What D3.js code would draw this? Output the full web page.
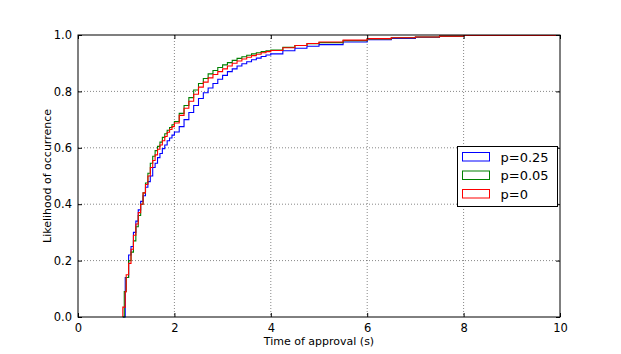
<!DOCTYPE html>
<html>
<head>
<meta charset="utf-8">
<script src="https://cdn.jsdelivr.net/npm/d3@7"></script>
<style>
  body { margin: 0; background: #fff; }
  text { font-family: "DejaVu Sans", sans-serif; fill: #000; }
</style>
</head>
<body>
<div id="chart"></div>
<script>
// step edges (s), shared by the three empirical CDFs
let times = [0.93, 0.96, 0.98, 1.0, 1.05, 1.1, 1.15, 1.2, 1.25, 1.3, 1.35, 1.4, 1.45, 1.5, 1.55, 1.6, 1.65, 1.7, 1.75, 1.8, 1.85, 1.9, 1.95, 2.0,
  2.1, 2.2, 2.3, 2.4, 2.5, 2.6, 2.7, 2.8, 2.9, 3.0, 3.1, 3.2, 3.3, 3.4, 3.5, 3.6, 3.7, 3.8, 3.9, 4.0,
  4.25, 4.5, 4.75, 5.0, 5.5, 6.0, 6.5, 7.0, 7.5, 8.0, 10];

let cdfP025 = [0, 0, 0.14, 0.14, 0.22, 0.25, 0.30, 0.34, 0.38, 0.41, 0.43, 0.46, 0.48, 0.50, 0.53, 0.545, 0.565, 0.58, 0.597, 0.61, 0.625, 0.635, 0.645, 0.656,
  0.675, 0.70, 0.725, 0.75, 0.775, 0.795, 0.812, 0.828, 0.843, 0.857, 0.87, 0.88, 0.89, 0.898, 0.905, 0.912, 0.918, 0.924, 0.929, 0.933,
  0.944, 0.953, 0.96, 0.966, 0.975, 0.983, 0.988, 0.992, 0.995, 0.998, 1];

let cdfP005 = [0, 0.09, 0.09, 0.14, 0.20, 0.23, 0.27, 0.32, 0.36, 0.40, 0.44, 0.475, 0.51, 0.545, 0.57, 0.59, 0.605, 0.62, 0.637, 0.65, 0.662, 0.672, 0.682, 0.693,
  0.722, 0.75, 0.778, 0.805, 0.828, 0.846, 0.862, 0.874, 0.885, 0.894, 0.902, 0.91, 0.917, 0.923, 0.928, 0.933, 0.937, 0.941, 0.944, 0.947,
  0.956, 0.963, 0.969, 0.973, 0.98, 0.986, 0.99, 0.993, 0.996, 0.998, 1];

let cdfP0 = [0.035, 0.035, 0.09, 0.15, 0.19, 0.24, 0.29, 0.33, 0.37, 0.40, 0.44, 0.47, 0.50, 0.53, 0.555, 0.575, 0.595, 0.61, 0.625, 0.64, 0.655, 0.665, 0.675, 0.688,
  0.715, 0.74, 0.765, 0.79, 0.815, 0.833, 0.848, 0.86, 0.87, 0.88, 0.89, 0.9, 0.908, 0.915, 0.921, 0.927, 0.932, 0.937, 0.941, 0.945,
  0.955, 0.963, 0.97, 0.975, 0.982, 0.987, 0.99, 0.993, 0.996, 0.998, 1];

let seriesNames = ["p=0.25", "p=0.05", "p=0"];
let seriesColors = ["#0000ff", "#008000", "#ff0000"];
let xTicks = [0, 2, 4, 6, 8, 10];
let yTicks = [0, 0.2, 0.4, 0.6, 0.8, 1.0];

let svgWidth = 621, svgHeight = 354;
let margin = { top: 35, right: 61, bottom: 37, left: 78 };
let width = svgWidth - margin.left - margin.right;
let height = svgHeight - margin.top - margin.bottom;

let svg = d3.select("#chart").append("svg")
  .attr("width", svgWidth)
  .attr("height", svgHeight);

let chartGroup = svg.append("g")
  .attr("transform", `translate(${margin.left}, ${margin.top})`);

let xScale = d3.scaleLinear().domain([0, 10]).range([0, width]);
let yScale = d3.scaleLinear().domain([0, 1]).range([height, 0]);

// dotted grid
chartGroup.append("g").selectAll("line")
  .data(xTicks.slice(1, -1)).enter().append("line")
  .attr("x1", d => xScale(d)).attr("x2", d => xScale(d))
  .attr("y1", 0).attr("y2", height)
  .attr("stroke", "#000").attr("stroke-opacity", 0.6)
  .attr("stroke-width", 0.8).attr("stroke-dasharray", "1,2");
chartGroup.append("g").selectAll("line")
  .data(yTicks.slice(1, -1)).enter().append("line")
  .attr("y1", d => yScale(d)).attr("y2", d => yScale(d))
  .attr("x1", 0).attr("x2", width)
  .attr("stroke", "#000").attr("stroke-opacity", 0.6)
  .attr("stroke-width", 0.8).attr("stroke-dasharray", "1,2");

// step curves
let allSeries = [cdfP025, cdfP005, cdfP0];
let line = d3.line()
  .x(d => xScale(d[0]))
  .y(d => yScale(d[1]))
  .curve(d3.curveStepAfter);

allSeries.forEach(function(vals, i) {
  let pts = [[times[0], 0]].concat(times.map((t, j) => [t, vals[j]]));
  chartGroup.append("path")
    .datum(pts)
    .attr("d", line)
    .attr("fill", "none")
    .attr("stroke", seriesColors[i])
    .attr("stroke-width", 1.1);
});

// frame
chartGroup.append("rect")
  .attr("x", 0).attr("y", 0)
  .attr("width", width).attr("height", height)
  .attr("fill", "none").attr("stroke", "#000").attr("stroke-width", 1);

// axes with inward ticks on all sides
let xAxis = d3.axisBottom(xScale).tickValues(xTicks).tickSize(-4).tickPadding(7).tickFormat(d3.format("d"));
let yAxis = d3.axisLeft(yScale).tickValues(yTicks).tickSize(-4).tickPadding(6).tickFormat(d3.format(".1f"));

chartGroup.append("g").attr("transform", `translate(0,${height})`).call(xAxis)
  .call(g => g.select(".domain").remove())
  .selectAll("text").attr("font-size", 11.5).attr("font-family", "DejaVu Sans");
chartGroup.append("g").call(yAxis)
  .call(g => g.select(".domain").remove())
  .selectAll("text").attr("font-size", 11.5).attr("font-family", "DejaVu Sans");
chartGroup.append("g").call(d3.axisTop(xScale).tickValues(xTicks).tickSize(-4).tickFormat(""))
  .call(g => g.select(".domain").remove());
chartGroup.append("g").attr("transform", `translate(${width},0)`)
  .call(d3.axisRight(yScale).tickValues(yTicks).tickSize(-4).tickFormat(""))
  .call(g => g.select(".domain").remove());

// axis labels
chartGroup.append("text")
  .attr("x", width / 2).attr("y", height + 28)
  .attr("text-anchor", "middle").attr("font-size", 11)
  .text("Time of approval (s)");

chartGroup.append("text")
  .attr("transform", "rotate(-90)")
  .attr("x", -height / 2).attr("y", -27)
  .attr("text-anchor", "middle").attr("font-size", 11)
  .text("Likelihood of occurrence");

// legend
let legend = svg.append("g").attr("transform", "translate(457.5,146.5)");
legend.append("rect")
  .attr("width", 100).attr("height", 60)
  .attr("fill", "#fff").attr("stroke", "#000").attr("stroke-width", 1);
seriesNames.forEach(function(name, i) {
  let row = legend.append("g").attr("transform", `translate(0,${6 + i * 18.5})`);
  row.append("rect")
    .attr("x", 5).attr("y", 0).attr("width", 27).attr("height", 8.5)
    .attr("fill", "none").attr("stroke", seriesColors[i]).attr("stroke-width", 1);
  row.append("text")
    .attr("x", 43).attr("y", 9)
    .attr("font-size", 13)
    .text(name);
});
</script>
</body>
</html>
